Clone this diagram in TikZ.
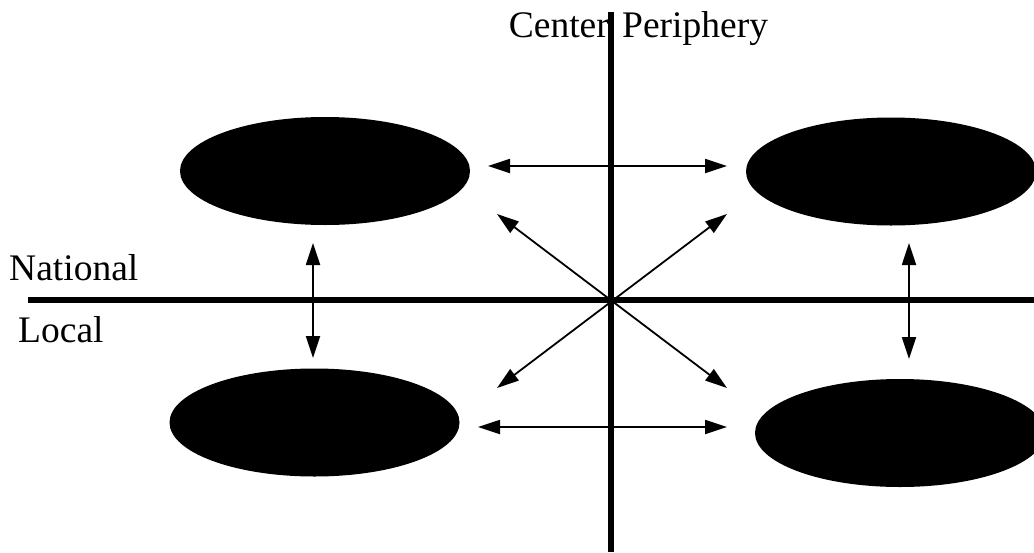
\documentclass[tikz,border=0pt]{standalone}
\usepackage{fontspec}
\setmainfont{Liberation Serif}
\usetikzlibrary{shapes.geometric,arrows.meta}
\begin{document}
\begin{tikzpicture}[x=1pt,y=-1pt,
  blob/.style={ellipse,fill=black,draw=none,minimum width=290pt,minimum height=108pt,inner sep=0pt},
  axis/.style={line width=6pt},
  link/.style={line width=1.8pt,{Triangle[length=22pt,width=14pt]}-{Triangle[length=22pt,width=14pt]}},
  lbl/.style={font=\fontsize{37.5}{40}\selectfont,inner sep=0pt}]
\useasboundingbox (0,0) rectangle (1034,552);
% axes
\coordinate (vt) at (611,12);
\coordinate (vb) at (611,552);
\coordinate (hl) at (28,300);
\coordinate (hr) at (1034,300);
\draw[axis] (vt) -- (vb);
\draw[axis] (hl) -- (hr);
% ellipses
\node[blob] (tl) at (325,171) {};
\node[blob] (tr) at (891,171.5) {};
\node[blob] (bl) at (314.5,422.5) {};
\node[blob] (br) at (900,433) {};
% labels
\node[lbl,anchor=base east] (center) at (609,37) {Center};
\node[lbl,anchor=base west] (periph) at (622,37) {Periphery};
\node[lbl,anchor=base west] (national) at (9,280) {National};
\node[lbl,anchor=base west] (local) at (18,342) {Local};
% arrow end points
\coordinate (a1) at (488,166);
\coordinate (a2) at (727,166);
\coordinate (b1) at (478,427);
\coordinate (b2) at (727,427);
\coordinate (c1) at (313,243);
\coordinate (c2) at (313,358);
\coordinate (d1) at (909,243);
\coordinate (d2) at (909,359);
\coordinate (e1) at (497,214);
\coordinate (e2) at (727,388);
\coordinate (f1) at (727,214);
\coordinate (f2) at (497,388);
\draw[link] (a1) -- (a2);
\draw[link] (b1) -- (b2);
\draw[link] (c1) -- (c2);
\draw[link] (d1) -- (d2);
\draw[link] (e1) -- (e2);
\draw[link] (f1) -- (f2);
\end{tikzpicture}
\end{document}
